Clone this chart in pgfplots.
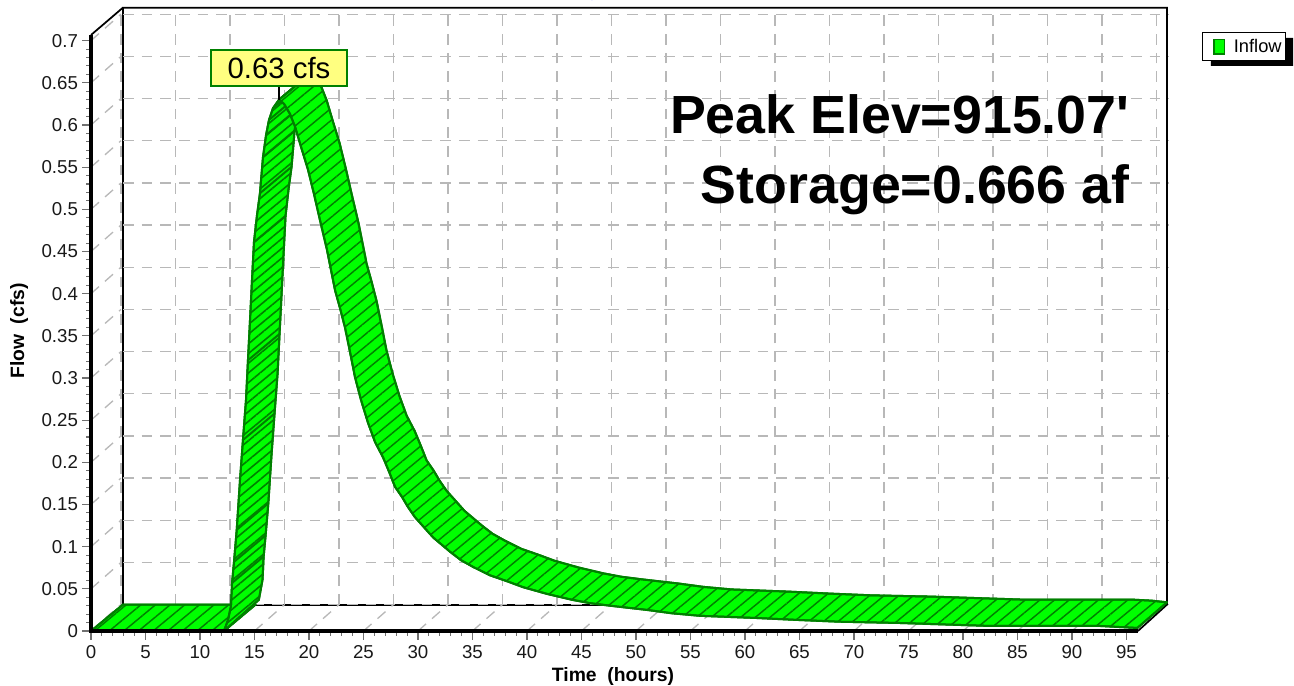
\documentclass[border=0pt]{standalone}
\usepackage{pgfplots}
\pgfplotsset{compat=1.18}
\usepackage{pgfplotstable}
\usepackage{fontspec}
\setmainfont{Liberation Sans}[Ligatures=TeXOff]
\usetikzlibrary{patterns.meta}
\definecolor{grn}{HTML}{00FF00}
\definecolor{dgrn}{HTML}{008000}
\definecolor{gridc}{HTML}{B8B8B8}
\definecolor{tickc}{HTML}{707070}
\definecolor{lab}{HTML}{FFFF80}

\pgfplotstableread{
t q
0 0
12.2 0
15.1 0.0313
2.93 0.0313
0 0
}\tblFlat

\pgfplotstableread{
t q
12.2 0
12.57 0.013
12.84 0.0297
12.94 0.057
13.12 0.082
13.37 0.12
13.67 0.179
13.94 0.2265
14.22 0.274
14.4 0.321
14.59 0.369
14.77 0.416
14.95 0.461
15.23 0.493
15.5 0.519
15.78 0.562
16.06 0.588
16.33 0.606
16.7 0.62
17.25 0.63
20.15 0.6613
19.6 0.6513
19.23 0.6373
18.96 0.6193
18.68 0.5933
18.4 0.5503
18.13 0.5243
17.85 0.4923
17.67 0.4473
17.49 0.4003
17.3 0.3523
17.12 0.3053
16.84 0.2578
16.57 0.2103
16.27 0.1513
16.02 0.1133
15.84 0.0883
15.74 0.061
15.4 0.037
12.2 0
}\tblRise

\pgfplotstableread{
t q
12.94 0.057
15.84 0.0883
nan nan
13.12 0.082
16.02 0.1133
nan nan
13.37 0.12
16.27 0.1513
nan nan
13.94 0.2265
16.84 0.2578
nan nan
14.4 0.321
17.3 0.3523
nan nan
14.95 0.461
17.85 0.4923
nan nan
15.5 0.519
18.4 0.5503
nan nan
15.78 0.562
18.68 0.5933
nan nan
16.06 0.588
18.96 0.6193
nan nan
16.33 0.606
19.23 0.6373
nan nan
16.7 0.62
19.6 0.6513
}\tblCross

\pgfplotstableread{
t q
17.25 0.63
17.71 0.625
18.26 0.613
18.72 0.598
19.27 0.574
19.91 0.547
20.46 0.518
21.01 0.487
21.65 0.452
22.39 0.404
22.84 0.383
23.3 0.36
23.76 0.331
24.22 0.301
24.77 0.274
25.41 0.247
26.06 0.224
26.79 0.206
27.34 0.189
27.89 0.171
28.53 0.159
29.08 0.147
29.72 0.135
30.55 0.123
31.38 0.111
32.94 0.094
33.94 0.084
35.05 0.076
36.61 0.066
38.17 0.059
39.63 0.052
41.83 0.044
44.13 0.037
45.78 0.033
47.61 0.03
51 0.025
53.3 0.021
55.87 0.018
61.1 0.0154
65 0.013
68.7 0.011
74.2 0.0095
82.44 0.006
92.5 0.006
94.4 0.0047
96 0.0036
98.72 0.034
97.3 0.036
95.4 0.0373
85.34 0.0373
77.1 0.0408
71.6 0.0423
67.9 0.0443
64 0.0467
58.77 0.0493
56.2 0.0523
53.9 0.0563
50.51 0.0613
48.68 0.0643
47.03 0.0683
44.73 0.0753
42.53 0.0833
41.07 0.0903
39.51 0.0973
37.95 0.1073
36.84 0.1153
35.84 0.1253
34.28 0.1423
33.45 0.1543
32.62 0.1663
31.98 0.1783
31.43 0.1903
30.79 0.2023
30.24 0.2203
29.69 0.2373
28.96 0.2553
28.31 0.2783
27.67 0.3053
27.12 0.3323
26.66 0.3623
26.2 0.3913
25.74 0.4143
25.29 0.4353
24.55 0.4833
23.91 0.5183
23.36 0.5493
22.81 0.5783
22.17 0.6053
21.62 0.6293
21.16 0.6443
20.61 0.6563
20.15 0.6613
17.25 0.63
}\tblFall

\begin{document}
\begin{tikzpicture}[x=1pt,y=1pt]
\path[use as bounding box,clip] (0,0) rectangle (970.5,513.75);
\begin{axis}[
  at={(68.25pt,40.5pt)},anchor=south west,
  scale only axis,width=807pt,height=467.5pt,
  xmin=0,xmax=98.72,ymin=0,ymax=0.7391,
  clip=false,
  axis x line=bottom,axis y line=left,
  axis line style={draw=none},
  xtick={0,5,...,95},
  minor xtick={0,1,...,95},
  ytick={0,0.05,0.1,0.15,0.2,0.25,0.3,0.35,0.4,0.45,0.5,0.55,0.6,0.65,0.7},
  yticklabels={0,0.05,0.1,0.15,0.2,0.25,0.3,0.35,0.4,0.45,0.5,0.55,0.6,0.65,0.7},
  minor ytick={0,0.01,...,0.7},
  tick align=outside,
  major tick length=6.5pt,minor tick length=3.5pt,
  every tick/.style={draw=tickc,line width=0.8pt},
  every minor tick/.style={draw=tickc,line width=0.8pt},
  tick label style={font=\fontsize{14}{16}\selectfont,/pgf/number format/assume math mode=true,text=black!90},
  xticklabel style={yshift=-1pt},
  yticklabel style={xshift=0.2pt},
  every axis x label/.style={at={(rel axis cs:0.4851,-0.0725)},anchor=center},
  every axis y label/.style={at={(rel axis cs:-0.0669,0.4813)},rotate=90,anchor=center},
  xlabel={\fontsize{14.5}{16}\selectfont\bfseries Time\ \ (hours)},
  ylabel={\fontsize{14.5}{16}\selectfont\bfseries Flow\ \ (cfs)},
  legend style={at={(1.0325,0.961)},anchor=north west,draw=black,line width=0.9pt,fill=white,
    inner xsep=1pt,inner ysep=2.8pt,
    font=\fontsize{13.7}{16}\selectfont},
  gs/.style={forget plot,draw=gridc,line width=1pt,dash pattern=on 8pt off 6pt,mark=none},
  fr/.style={forget plot,draw=black,mark=none},
  hatchband/.style={forget plot,mark=none,draw=dgrn,line width=1.5pt,line join=round,
    preaction={fill=grn},
    pattern={Lines[angle=39.6,distance=7pt,line width=1.1pt]},pattern color=dgrn},
]
% legend
\addlegendimage{legend image code/.code={\path[draw=none,fill=none] (0pt,0pt) rectangle (20.5pt,1pt);\draw[fill=grn,draw=dgrn,line width=1pt,dash pattern=] (7.5pt,-5.5pt) rectangle (15.5pt,5.5pt);}}
\addlegendentry{Inflow}

% legend box shadow
\addplot[forget plot,mark=none,draw=none,fill=black] coordinates {(102.75,0.7032) (110.28,0.7032) (110.28,0.67) (102.75,0.67) (102.75,0.7032)};

% back frame
\addplot[fr,line width=1.3pt] coordinates {(2.93,0.0313) (2.93,0.7391) (98.72,0.7391) (98.72,0.0313) (96.05,0)};
\addplot[fr,line width=1.6pt] coordinates {(2.93,0.0313) (98.72,0.0313)};

% grid
\foreach \q in {0,0.05,0.1,...,0.701}{
  \pgfmathsetmacro{\qb}{\q+0.0313}
  \edef\temp{\noexpand\addplot[gs] coordinates {(0,\q) (2.75,\qb)};
             \noexpand\addplot[gs] coordinates {(2.93,\qb) (98.9,\qb)};}
  \temp
}
\foreach \t in {0,5,...,95}{
  \pgfmathsetmacro{\tb}{\t+2.75}
  \edef\temp{\noexpand\addplot[gs] coordinates {(\t,0) (\tb,0.0313)};
             \noexpand\addplot[gs] coordinates {(\tb,0.0313) (\tb,0.7355)};}
  \temp
}

% ribbon
\addplot[hatchband] table[x=t,y=q] {\tblFlat};
\addplot[hatchband,pattern={Lines[angle=39.6,distance=5.6pt,line width=1.2pt]}] table[x=t,y=q] {\tblRise};
\addplot[forget plot,mark=none,draw=dgrn,line width=1.5pt,unbounded coords=jump] table[x=t,y=q] {\tblCross};
\addplot[hatchband] table[x=t,y=q] {\tblFall};

% front frame
\addplot[fr,line width=2.4pt] coordinates {(0,0.7067) (0,0) (96.05,0)};
\addplot[fr,line width=1.3pt] coordinates {(0,0.7067) (2.93,0.7391)};

% peak label
\addplot[fr,line width=1pt] coordinates {(17.25,0.63) (17.25,0.66)};
\node[fill=lab,draw=dgrn,line width=1pt,minimum width=102pt,minimum height=27pt,inner sep=0pt,
  font=\fontsize{22}{24}\selectfont] at (axis cs:17.25,0.6676) {0.63 cfs};

% annotation text
\node[anchor=base east,font=\fontsize{40.3}{44}\selectfont\bfseries,inner sep=0pt]
  at (axis cs:95.3,0.5897) {Peak Elev=915.07'};
\node[anchor=base east,font=\fontsize{40.3}{44}\selectfont\bfseries,inner sep=0pt]
  at (axis cs:95.3,0.5067) {Storage=0.666 af};

% clipped title
\node[anchor=base,text=blue,font=\fontsize{18}{20}\selectfont\bfseries,inner sep=0pt]
  at (axis cs:45.2,0.7530) {Hydrograph};
\end{axis}
\end{tikzpicture}
\end{document}
